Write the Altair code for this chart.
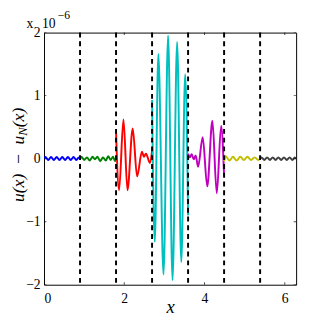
import altair as alt
import pandas as pd

# ---------------- data (values in units of 1e-6) ----------------
seg_names = ["seg1", "seg2", "seg3", "seg4", "seg5", "seg6", "seg7"]
seg_colors = ["#0000ff", "#008000", "#ff0000", "#00bfbf", "#bf00bf", "#bfbf00", "#404040"]

blue_x = [0.0, 0.035, 0.105, 0.175, 0.245, 0.315, 0.385, 0.455, 0.525, 0.595, 0.665, 0.735, 0.805, 0.870, 0.8976]
blue_y = [0.0, 0.025, -0.02, 0.025, -0.02, 0.025, -0.02, 0.025, -0.02, 0.025, -0.02, 0.025, -0.02, 0.02, 0.0]

green_x = [0.8976, 0.93, 1.0, 1.07, 1.14, 1.21, 1.27, 1.33, 1.40, 1.47, 1.54, 1.60, 1.66, 1.72, 1.77, 1.7952]
green_y = [-0.01, 0.03, -0.02, 0.02, -0.03, 0.03, -0.01, 0.03, -0.04, 0.02, -0.03, 0.04, -0.02, 0.03, -0.04, 0.02]

red_x = [1.7952, 1.87, 1.98, 2.08, 2.21, 2.32, 2.44, 2.49, 2.54, 2.64, 2.6928]
red_y = [0.42, -0.50, 0.62, -0.50, 0.48, -0.28, 0.11, 0.03, 0.08, -0.07, 0.12]

cyan_x = [2.6928, 2.76, 2.85, 2.978, 3.092, 3.203, 3.317, 3.421, 3.518, 3.5904]
cyan_y = [0.93, -1.32, 1.66, -1.84, 1.95, -1.93, 1.85, -1.64, 1.34, -0.90]

magenta_x = [3.5904, 3.63, 3.68, 3.73, 3.78, 3.84, 3.954, 4.068, 4.196, 4.305, 4.414, 4.488]
magenta_y = [0.08, 0.02, 0.07, -0.01, 0.05, -0.13, 0.34, -0.44, 0.60, -0.55, 0.52, -0.28]

yellow_x = [4.488, 4.53, 4.62, 4.71, 4.80, 4.89, 4.98, 5.07, 5.16, 5.25, 5.34, 5.3856]
yellow_y = [-0.04, 0.04, -0.03, 0.03, -0.03, 0.03, -0.02, 0.03, -0.02, 0.02, -0.02, 0.0]

gray_x = [5.3856, 5.42, 5.49, 5.56, 5.63, 5.70, 5.77, 5.84, 5.91, 5.98, 6.05, 6.12, 6.19, 6.25, 6.2832]
gray_y = [0.0, 0.02, -0.02, 0.02, -0.02, 0.02, -0.02, 0.02, -0.02, 0.02, -0.02, 0.02, -0.02, 0.02, 0.0]

boundaries = [0.8976, 1.7952, 2.6928, 3.5904, 4.4880, 5.3856]
x_ticks = [0, 2, 4, 6]
y_ticks = [-2, -1, 0, 1, 2]
x_domain = [0, 6.2832]
y_domain = [-2, 2]

# ---------------- tables ----------------
all_x = [blue_x, green_x, red_x, cyan_x, magenta_x, yellow_x, gray_x]
all_y = [blue_y, green_y, red_y, cyan_y, magenta_y, yellow_y, gray_y]
rows = []
for name, xs_, ys_ in zip(seg_names, all_x, all_y):
    for i, (xv, yv) in enumerate(zip(xs_, ys_)):
        rows.append({"x": xv, "y": yv, "seg": name, "i": i})
df = pd.DataFrame(rows)
bdf = pd.DataFrame({"b": boundaries})
xt_df = pd.DataFrame({"t": x_ticks, "ylo": y_domain[0], "yhi": y_domain[1]})
yt_df = pd.DataFrame({"t": y_ticks, "xlo": x_domain[0], "xhi": x_domain[1]})
one = pd.DataFrame({"a": [0]})

FONT = "Liberation Serif, Times New Roman, Times, DejaVu Serif, serif"
xs = alt.Scale(domain=x_domain, nice=False, zero=False)
ys = alt.Scale(domain=y_domain, nice=False, zero=False)

lines = alt.Chart(df).mark_line(strokeWidth=2, interpolate="monotone", clip=True).encode(
    x=alt.X("x:Q", scale=xs,
            axis=alt.Axis(values=x_ticks, format="d", tickSize=0, domain=False, grid=False,
                          labelFont=FONT, labelFontSize=14, labelColor="black", labelPadding=7,
                          title="x", titleFont=FONT, titleFontStyle="italic", titleFontWeight="normal",
                          titleFontSize=19, titleColor="black", titleY=29, titleBaseline="alphabetic")),
    y=alt.Y("y:Q", scale=ys,
            axis=alt.Axis(values=y_ticks, format="d", tickSize=0, domain=False, grid=False,
                          labelFont=FONT, labelFontSize=14, labelColor="black", labelPadding=4,
                          title=None)),
    color=alt.Color("seg:N", scale=alt.Scale(domain=seg_names, range=seg_colors), legend=None),
    order="i:Q",
)

rules = alt.Chart(bdf).mark_rule(color="black", strokeWidth=2, strokeDash=[5, 4]).encode(
    x=alt.X("b:Q", scale=xs)
)

tick_bottom = alt.Chart(xt_df).mark_tick(orient="vertical", size=5, thickness=1, color="black", clip=True).encode(
    x=alt.X("t:Q", scale=xs), y=alt.Y("ylo:Q", scale=ys))
tick_top = alt.Chart(xt_df).mark_tick(orient="vertical", size=5, thickness=1, color="black", clip=True).encode(
    x=alt.X("t:Q", scale=xs), y=alt.Y("yhi:Q", scale=ys))
tick_left = alt.Chart(yt_df).mark_tick(orient="horizontal", size=5, thickness=1, color="black", clip=True).encode(
    y=alt.Y("t:Q", scale=ys), x=alt.X("xlo:Q", scale=xs))
tick_right = alt.Chart(yt_df).mark_tick(orient="horizontal", size=5, thickness=1, color="black", clip=True).encode(
    y=alt.Y("t:Q", scale=ys), x=alt.X("xhi:Q", scale=xs))

# y-axis title: u(x) - u_N(x), rotated (reads bottom to top)
TF = 18
SF = 13
ybase = 174           # bottom end of the title, relative to plot top
XB = -21              # baseline position, relative to plot left
w_a = TF * 3.785
w_b = SF * 0.667
txt_a = alt.Chart(one).mark_text(angle=270, align="left", baseline="alphabetic", font=FONT,
                                 fontStyle="italic", fontSize=TF, color="black").encode(
    x=alt.value(XB), y=alt.value(ybase), text=alt.value("u(x)\u2002\u2212\u2002u"))
txt_b = alt.Chart(one).mark_text(angle=270, align="left", baseline="alphabetic", font=FONT,
                                 fontStyle="italic", fontSize=SF, color="black").encode(
    x=alt.value(XB + 4), y=alt.value(ybase - w_a), text=alt.value("N"))
txt_c = alt.Chart(one).mark_text(angle=270, align="left", baseline="alphabetic", font=FONT,
                                 fontStyle="italic", fontSize=TF, color="black").encode(
    x=alt.value(XB), y=alt.value(ybase - w_a - w_b), text=alt.value("(x)"))

# exponent multiplier  "x 10^-6"
mult_x = alt.Chart(one).mark_text(align="left", baseline="alphabetic", font=FONT, fontSize=14,
                                  color="black").encode(
    x=alt.value(-18), y=alt.value(-5), text=alt.value("x"))
mult_a = alt.Chart(one).mark_text(align="left", baseline="alphabetic", font=FONT, fontSize=14,
                                  color="black").encode(
    x=alt.value(-2), y=alt.value(-5), text=alt.value("10"))
mult_b = alt.Chart(one).mark_text(align="left", baseline="alphabetic", font=FONT, fontSize=12,
                                  color="black").encode(
    x=alt.value(14), y=alt.value(-14), text=alt.value("\u22126"))

chart = alt.layer(
    lines, rules, tick_bottom, tick_top, tick_left, tick_right,
    txt_a, txt_b, txt_c, mult_x, mult_a, mult_b
).properties(
    width=259, height=259,
    autosize=alt.AutoSizeParams(type="none"),
    padding={"left": 37, "top": 21, "right": 5, "bottom": 33},
).configure(background="white").configure_view(stroke="black", strokeWidth=1)

chart.save("out.html", embed_options={"renderer": "svg", "actions": False})
